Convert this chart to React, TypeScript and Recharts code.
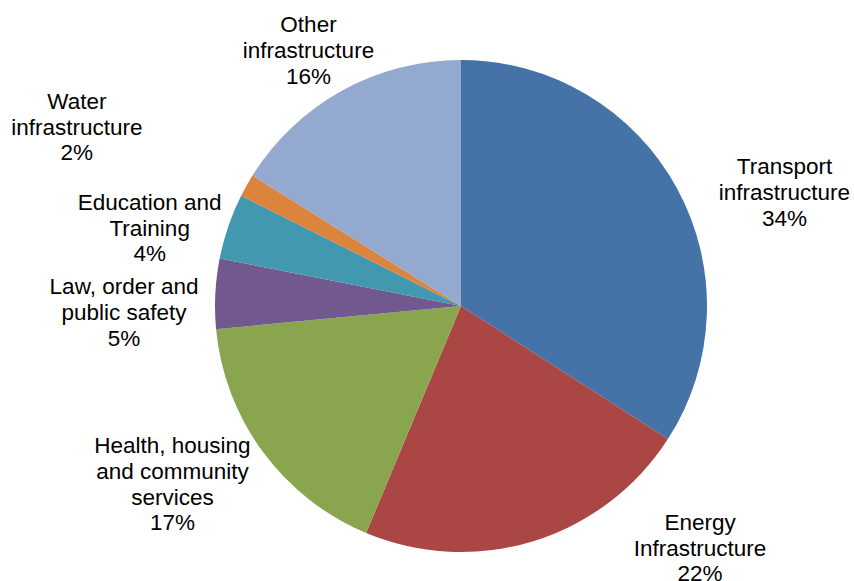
import { Pie, PieChart, Cell } from "recharts"

// Anteile je Bereich (in %), im Uhrzeigersinn ab 12 Uhr
const categories = [
  "Transport\ninfrastructure",
  "Energy\nInfrastructure",
  "Health, housing\nand community\nservices",
  "Law, order and\npublic safety",
  "Education and\nTraining",
  "Water\ninfrastructure",
  "Other\ninfrastructure",
]
const shares = [34.1, 22.2, 17.2, 4.6, 4.3, 1.5, 16.1]

const colors = ["#4572A7", "#AA4643", "#89A54E", "#71588F", "#4198AF", "#DB843D", "#93A9CF"]

// Label-Abstand vom Mittelpunkt und Winkelverschiebung (Grad, im Uhrzeigersinn)
const labelDist = [343, 340, 339, 337, 321, 424, 298]
const labelShift = [9.2, -27.4, 4.7, -3.9, -4.8, -4.3, -1.8]

const data = categories.map((name, i) => ({ name, value: shares[i] }))

const RADIAN = Math.PI / 180
const FONT = 22.5
const LINE_H = 25.7

function renderLabel(props: any) {
  const { cx, cy, midAngle, percent, index, name } = props
  const ang = midAngle - labelShift[index]
  const r = labelDist[index]
  const x = cx + r * Math.cos(-ang * RADIAN)
  const y = cy + r * Math.sin(-ang * RADIAN)
  const lines = [...String(name).split("\n"), `${Math.round(percent * 100)}%`]
  const n = lines.length
  return (
    <text
      x={x}
      y={y}
      textAnchor="middle"
      dominantBaseline="central"
      fontFamily="'Liberation Sans', Arial, sans-serif"
      fontSize={FONT}
      fill="#000"
    >
      {lines.map((l, i) => (
        <tspan key={i} x={x} y={y + (i - (n - 1) / 2) * LINE_H}>
          {l}
        </tspan>
      ))}
    </text>
  )
}

export default function App() {
  return (
    <div style={{ position: "absolute", left: 0, top: 0, width: 854, height: 581, background: "#fff" }}>
      <PieChart width={854} height={581} margin={{ top: 0, right: 0, bottom: 0, left: 0 }}>
        <Pie
          data={data}
          dataKey="value"
          nameKey="name"
          cx={461}
          cy={306}
          outerRadius={246}
          startAngle={90}
          endAngle={-270}
          stroke="none"
          label={renderLabel}
          labelLine={false}
          isAnimationActive={false}
        >
          {data.map((d, i) => (
            <Cell key={d.name} fill={colors[i]} />
          ))}
        </Pie>
      </PieChart>
    </div>
  )
}
